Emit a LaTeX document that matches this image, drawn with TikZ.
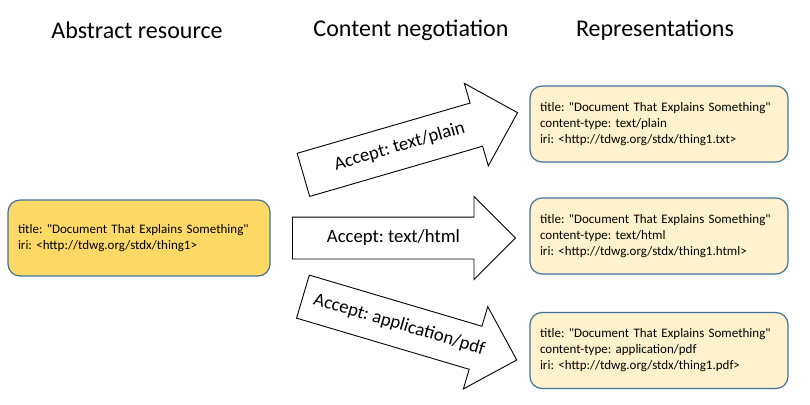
\documentclass[tikz,border=0pt]{standalone}
\usepackage{fontspec}
\setmainfont{Carlito}
\frenchspacing
\usetikzlibrary{shapes.arrows}
\definecolor{boxline}{RGB}{65,113,156}
\definecolor{abstractfill}{RGB}{255,217,102}
\definecolor{reprfill}{RGB}{255,242,204}
\newcommand\qtitle{title: \textquotedbl Document That Explains Something\textquotedbl}
\begin{document}
\begin{tikzpicture}[
			x=1pt,y=-1pt,
			heading/.style={font=\fontsize{24}{28}\selectfont},
			resbox/.style={draw=boxline,line width=1.2pt,rounded corners=12pt,align=left,
				inner xsep=10pt,minimum height=76pt,font=\fontsize{13}{16}\selectfont},
			abstractbox/.style={resbox,fill=abstractfill,text width=242pt},
			reprbox/.style={resbox,fill=reprfill,text width=238pt},
			negarrow/.style={single arrow,draw,fill=white,line width=0.9pt,anchor=tail,
				single arrow head extend=20.5pt,minimum height=223pt,inner xsep=0pt,inner ysep=12pt,
				text height=13pt,text depth=4pt,font=\fontsize{18.7}{22}\selectfont}
		]
		\useasboundingbox (0,0) rectangle (810,404);
		\node[heading] (hres) at (137,30) {Abstract resource};
		\node[heading] (hneg) at (411,30) {Content negotiation};
		\node[heading] (hrep) at (655,30) {Representations};
		\node[abstractbox] (thing) at (139,238) {\qtitle\\iri: <http://tdwg.org/stdx/thing1>};
		\node[reprbox] (plain) at (659,124) {\qtitle\\content-type: text/plain\\iri: <http://tdwg.org/stdx/thing1.txt>};
		\node[reprbox] (html) at (659,236) {\qtitle\\content-type: text/html\\iri: <http://tdwg.org/stdx/thing1.html>};
		\node[reprbox] (pdf) at (659,350.5) {\qtitle\\content-type: application/pdf\\iri: <http://tdwg.org/stdx/thing1.pdf>};
		\node[negarrow,rotate=16.2,inner ysep=13.5pt] (toplain) at (303,175) {Accept: text/plain};
		\node[negarrow] (tohtml) at (292,238) {Accept: text/html};
		\node[negarrow,rotate=-16.5,inner ysep=13.5pt] (topdf) at (302.5,296.5) {Accept: application/pdf};
	\end{tikzpicture}
\end{document}
